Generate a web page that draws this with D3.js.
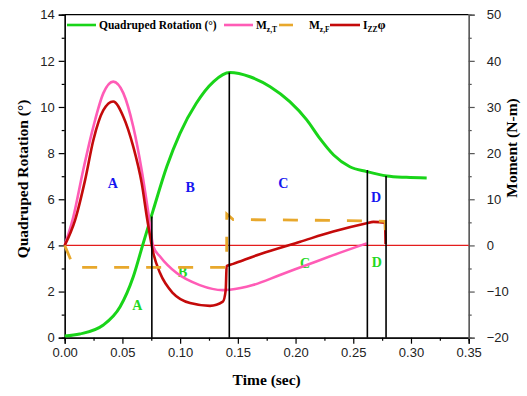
<!DOCTYPE html>
<html>
<head>
<meta charset="utf-8">
<script src="https://cdn.jsdelivr.net/npm/d3@7"></script>
<style>
  body { margin: 0; background: #fff; }
  text { font-family: "Liberation Serif", "Times New Roman", serif; }
  .tick text { font-family: "Liberation Sans", Arial, sans-serif; font-size: 13px; fill: #222; }
</style>
</head>
<body>
<script>
// rotation curve (left axis, degrees)
var rotT = [0, 0.013, 0.0335, 0.048, 0.0594, 0.068, 0.0768, 0.0884, 0.0999, 0.114, 0.129, 0.143, 0.1605, 0.178, 0.195, 0.2097, 0.221, 0.233, 0.247, 0.2616, 0.279, 0.296, 0.3136];
var rotV = [0.07, 0.16, 0.55, 1.34, 2.64, 4.09, 5.55, 7.41, 8.86, 10.16, 11.1, 11.49, 11.31, 10.88, 10.23, 9.44, 8.64, 7.92, 7.41, 7.2, 7.01, 6.95, 6.92];

// moments (right axis, N-m)
var mztT = [0, 0.0075, 0.016, 0.0248, 0.0335, 0.042, 0.0508, 0.0594, 0.0667, 0.0725, 0.0768, 0.0826, 0.097, 0.117, 0.137, 0.143, 0.163, 0.1865, 0.2097, 0.2327, 0.2616];
var mztV = [0, 6.2, 16.3, 25.7, 33, 35.5, 33, 25.7, 16.3, 7, -0.3, -2.4, -6, -8.6, -9.7, -9.6, -8.6, -6.4, -4.25, -2.1, 0.45];

var mzfT = [0, 0.008, 0.1403, 0.1404, 0.146, 0.2, 0.27, 0.2776, 0.2778];
var mzfV = [0, -4.75, -4.75, 6.8, 5.6, 5.5, 5.3, 5.2, 0];

var izzT = [0, 0.009, 0.0177, 0.0248, 0.0335, 0.042, 0.0508, 0.0594, 0.0667, 0.0716, 0.0768, 0.0826, 0.094, 0.1086, 0.1259, 0.137, 0.1395, 0.1403, 0.146, 0.169, 0.204, 0.2327, 0.2616, 0.2673, 0.2775, 0.278];
var izzV = [0, 5.5, 14.2, 22.8, 29.3, 31.2, 27.9, 21.4, 13.5, 5.5, -1.7, -6, -10.4, -12.5, -13.1, -12.2, -9.7, -4.5, -4.0, -1.9, 0.8, 3.0, 4.8, 5.1, 4.9, 0.3];

// phase boundaries
var phaseT = [0.0755, 0.1426, 0.2622, 0.2784];
var phaseTop = [5.25, 11.49, 7.27, 7.01];

// phase letters (placed in rotation units)
var phaseBlue = [["A", 0.0416, 6.72], ["B", 0.1086, 6.52], ["C", 0.1894, 6.69], ["D", 0.2697, 6.11]];
var phaseGreen = [["A", 0.0629, 1.42], ["B", 0.1022, 2.86], ["C", 0.2082, 3.22], ["D", 0.2703, 3.29]];

var xTicks = [0, 0.05, 0.1, 0.15, 0.2, 0.25, 0.3, 0.35];
var yLTicks = [0, 2, 4, 6, 8, 10, 12, 14];
var yRTicks = [-20, -10, 0, 10, 20, 30, 40, 50];

var svg = d3.select("body").append("svg")
    .attr("width", 527)
    .attr("height", 396);

var x = d3.scaleLinear().domain([0, 0.35]).range([64.7, 468.7]);
var yL = d3.scaleLinear().domain([0, 14]).range([337.7, 14.7]);
var yR = d3.scaleLinear().domain([-20, 50]).range([337.7, 14.7]);

var green = "#19d419", pink = "#ff5cb6", orange = "#e8a82c", dred = "#c40a0a";

// top frame
svg.append("line").attr("x1", 64.7).attr("x2", 468.7).attr("y1", 14.7).attr("y2", 14.7)
    .style("stroke", "#000").style("stroke-width", 1.2);

// axes
var gx = svg.append("g").attr("transform", "translate(0,337.7)");
gx.call(d3.axisBottom(x).tickValues(xTicks).tickSize(6).tickPadding(4).tickFormat(d3.format(".2f")));
gx.append("g").call(d3.axisBottom(x).tickValues(d3.range(0.025, 0.35, 0.05)).tickSize(3).tickFormat(""));

var gl = svg.append("g").attr("transform", "translate(64.7,0)");
gl.call(d3.axisLeft(yL).tickValues(yLTicks).tickSize(6).tickPadding(4));
gl.append("g").call(d3.axisLeft(yL).tickValues(d3.range(1, 14, 2)).tickSize(3).tickFormat(""));

var gr = svg.append("g").attr("transform", "translate(468.7,0)");
gr.call(d3.axisRight(yR).tickValues(yRTicks).tickSize(6).tickPadding(12));
gr.append("g").call(d3.axisRight(yR).tickValues(d3.range(-15, 50, 10)).tickSize(3).tickFormat(""));

svg.selectAll(".domain").style("stroke-width", 1.2);
svg.selectAll(".tick line").style("stroke-width", 1.2);
gr.selectAll(".domain, .tick line").style("stroke", "#555");

// zero line of moment axis
svg.append("line").attr("x1", 64.7).attr("x2", 468.7).attr("y1", yR(0)).attr("y2", yR(0))
    .style("stroke", "#e41c1c").style("stroke-width", 1.2);

// phase letters
svg.selectAll(".lblB").data(phaseBlue).enter().append("text")
    .attr("x", function (d) { return x(d[1]); })
    .attr("y", function (d) { return yL(d[2]); })
    .attr("dy", "0.35em").attr("text-anchor", "middle")
    .style("font-size", "14px").style("font-weight", "bold").style("fill", "#1515f0")
    .text(function (d) { return d[0]; });
svg.selectAll(".lblG").data(phaseGreen).enter().append("text")
    .attr("x", function (d) { return x(d[1]); })
    .attr("y", function (d) { return yL(d[2]); })
    .attr("dy", "0.35em").attr("text-anchor", "middle")
    .style("font-size", "14px").style("font-weight", "bold").style("fill", "#22d822")
    .text(function (d) { return d[0]; });

function zip(ts, vs) { return ts.map(function (t, i) { return [t, vs[i]]; }); }

var lineL = d3.line().x(function (d) { return x(d[0]); }).y(function (d) { return yL(d[1]); }).curve(d3.curveMonotoneX);
var lineR = d3.line().x(function (d) { return x(d[0]); }).y(function (d) { return yR(d[1]); }).curve(d3.curveMonotoneX);
var lineRlin = d3.line().x(function (d) { return x(d[0]); }).y(function (d) { return yR(d[1]); });

svg.append("path").attr("d", lineL(zip(rotT, rotV)))
    .style("fill", "none").style("stroke", green).style("stroke-width", 3);
svg.append("path").attr("d", lineR(zip(mztT, mztV)))
    .style("fill", "none").style("stroke", pink).style("stroke-width", 2.6);
svg.append("path").attr("d", lineR(zip(izzT, izzV)))
    .style("fill", "none").style("stroke", dred).style("stroke-width", 2.6);
svg.append("path").attr("d", lineRlin(zip(mzfT, mzfV)))
    .style("fill", "none").style("stroke", orange).style("stroke-width", 2.8)
    .style("stroke-dasharray", "15,17");

// phase boundary lines
svg.selectAll(".phase").data(phaseT).enter().append("line")
    .attr("x1", function (d) { return x(d); })
    .attr("x2", function (d) { return x(d); })
    .attr("y1", yL(0))
    .attr("y2", function (d, i) { return yL(phaseTop[i]); })
    .style("stroke", "#000").style("stroke-width", 1.6);

// legend
var lg = svg.append("g").style("font-size", "11.5px").style("font-weight", "bold");
function legLine(x1, x2, col, dash) {
    var l = lg.append("line").attr("x1", x1).attr("x2", x2).attr("y1", 25).attr("y2", 25)
        .style("stroke", col).style("stroke-width", 2.6);
    if (dash) l.style("stroke-dasharray", dash);
}
legLine(67, 96, green);
lg.append("text").attr("x", 99).attr("y", 29).text("Quadruped Rotation (°)");
legLine(224, 253, pink);
var t1 = lg.append("text").attr("x", 256).attr("y", 29).text("M");
t1.append("tspan").attr("dy", 3).style("font-size", "7.5px").text("z,T");
legLine(279, 309, orange, "14,20");
var t2 = lg.append("text").attr("x", 309).attr("y", 29).text("M");
t2.append("tspan").attr("dy", 3).style("font-size", "7.5px").text("z,F");
legLine(330, 360, dred);
var t3 = lg.append("text").attr("x", 363).attr("y", 29).text("I");
t3.append("tspan").attr("dy", 3).style("font-size", "7.5px").text("ZZ");
t3.append("tspan").attr("dy", -3).style("font-size", "13px").text("φ");

// axis titles
svg.append("text").attr("transform", "translate(23,179) rotate(-90)")
    .attr("text-anchor", "middle").attr("dy", "0.35em")
    .style("font-size", "15.5px").style("font-weight", "bold")
    .text("Quadruped Rotation (°)");
svg.append("text").attr("transform", "translate(512,148) rotate(-90)")
    .attr("text-anchor", "middle").attr("dy", "0.35em")
    .style("font-size", "15.5px").style("font-weight", "bold")
    .text("Moment (N-m)");
svg.append("text").attr("x", 266.7).attr("y", 385)
    .attr("text-anchor", "middle")
    .style("font-size", "15.5px").style("font-weight", "bold")
    .text("Time (sec)");
</script>
</body>
</html>
